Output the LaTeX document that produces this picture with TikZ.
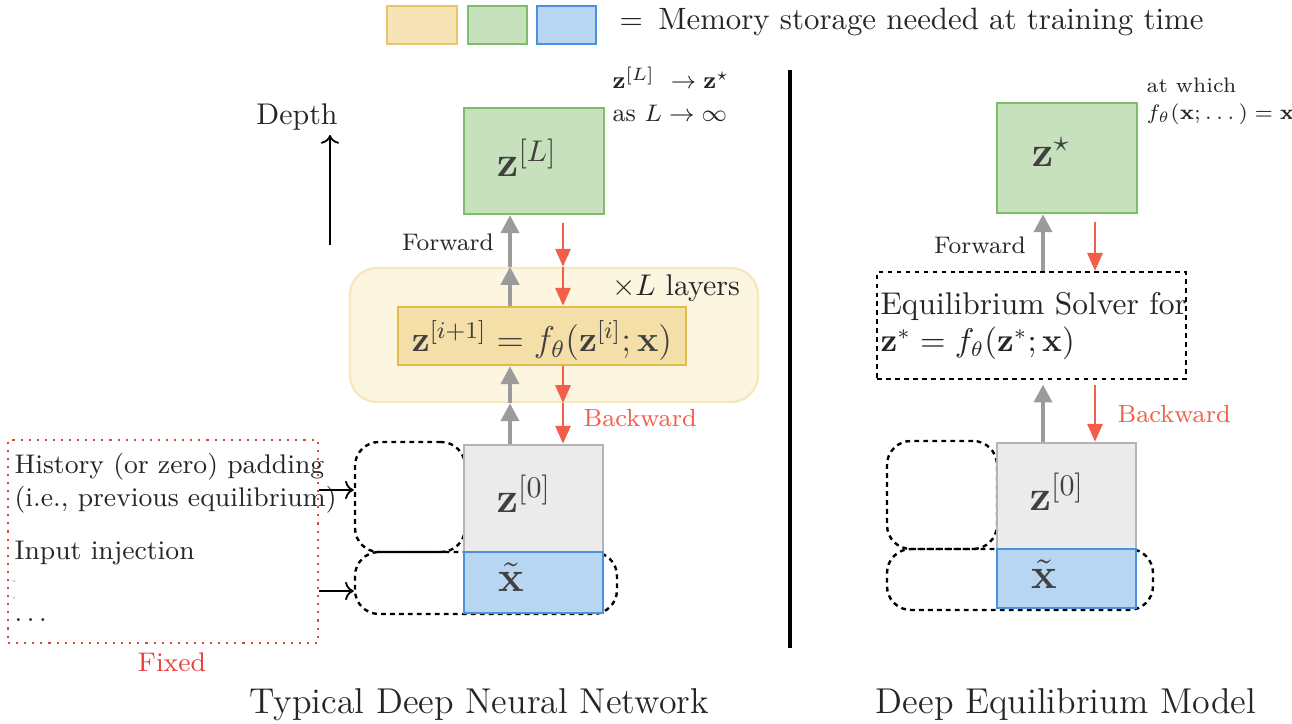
\documentclass[tikz,border=0pt]{standalone}
\usepackage{amsmath,amssymb}
\usepackage{tikz}
\usetikzlibrary{arrows.meta,fit}

\definecolor{yfill}{HTML}{F6E4B6}
\definecolor{yline}{HTML}{E9C46A}
\definecolor{bandfill}{HTML}{FCF5E0}
\definecolor{bandline}{HTML}{F6E8BE}
\definecolor{layerfill}{HTML}{F4DFA8}
\definecolor{layerline}{HTML}{E3BA4E}
\definecolor{gfill}{HTML}{C6E1BC}
\definecolor{gline}{HTML}{7EBD6B}
\definecolor{bfill}{HTML}{B8D6F1}
\definecolor{bline}{HTML}{4A92DB}
\definecolor{zfill}{HTML}{EBEBEB}
\definecolor{zline}{HTML}{B4B4B4}
\definecolor{fgray}{HTML}{9B9B9B}
\definecolor{bred}{HTML}{F25E4A}
\definecolor{fixred}{HTML}{E8403A}

\begin{document}
\begin{tikzpicture}[x=0.334pt,y=-0.334pt,
  txt/.style={text=black!85},
  membox/.style={line width=0.8pt,inner sep=0pt},
  boxlbl/.style={anchor=base,inner sep=0pt,text=black!75,font=\Large},
  padbox/.style={draw=black,line width=0.8pt,dash pattern=on 1.6pt off 1.4pt,rounded corners=8pt,inner sep=0pt},
  fwd/.style={draw=fgray,line width=1.3pt,-{Triangle[width=6pt,length=6pt]}},
  bwd/.style={draw=bred,line width=1pt,-{Triangle[width=5pt,length=6pt]}}]
  \useasboundingbox (0,0) rectangle (1292,724);

  % legend
  \node[membox,draw=yline,fill=yfill,fit={(387,6) (457,44)}] (legy) {};
  \node[membox,draw=gline,fill=gfill,fit={(468,6) (527,44)}] (legg) {};
  \node[membox,draw=bline,fill=bfill,fit={(537,6) (596,44)}] (legb) {};
  \node[txt,anchor=west,font=\fontsize{10.3}{12}\selectfont] (legtxt) at (609,22)
    {$=$\enspace Memory storage needed at training time};

  % typical deep network
  \node[txt] (depth) at (297,117) {Depth};
  \coordinate (dbot) at (330,245);
  \coordinate (dtop) at (330,135);
  \draw[->,line width=0.6pt] (dbot) -- (dtop);

  \node[draw=bandline,fill=bandfill,line width=0.8pt,rounded corners=9pt,inner sep=0pt,
    fit={(350,268) (758,402)}] (band) {};
  \node[txt] (times) at (676,288) {$\times L$ layers};
  \node[membox,draw=layerline,fill=layerfill,fit={(398,307) (686,365)}] (layer) {};
  \node[boxlbl,font=\large] (layerlbl) at (542,352)
    {$\mathbf{z}^{[i+1]} = f_\theta(\mathbf{z}^{[i]};\mathbf{x})$};
  \node[membox,draw=gline,fill=gfill,fit={(464,108) (604,214)}] (zL) {};
  \node[boxlbl] (zLlbl) at (527,177) {$\mathbf{z}^{[L]}$};
  \node[txt,font=\fontsize{8.5}{11}\selectfont,anchor=north west,align=left] (limit) at (602,56)
    {$\mathbf{z}^{[L]}\ \to \mathbf{z}^\star$\\as $L\to\infty$};

  \node[padbox,fit={(355,442) (465,552)}] (hpad) {};
  \node[padbox,fit={(355,552) (617,614)}] (xpad) {};
  \node[membox,draw=zline,fill=zfill,fit={(464,445) (603,552)}] (z0) {};
  \node[membox,draw=bline,fill=bfill,fit={(464,552) (603,613)}] (xt) {};
  \node[boxlbl] (z0lbl) at (524,513) {$\mathbf{z}^{[0]}$};
  \node[boxlbl] (xtlbl) at (511,592) {$\tilde{\mathbf{x}}$};

  \coordinate (lf) at (510,0);
  \coordinate (lb) at (563,0);
  \draw[fwd] (z0.north -| lf) -- (band.south -| lf);
  \draw[fwd] (band.south -| lf) -- (layer.south -| lf);
  \draw[fwd] (layer.north -| lf) -- (band.north -| lf);
  \draw[fwd] (band.north -| lf) -- (zL.south -| lf);
  \draw[bwd,shorten <=2.5pt] (zL.south -| lb) -- (band.north -| lb);
  \draw[bwd] (band.north -| lb) -- (layer.north -| lb);
  \draw[bwd] (layer.south -| lb) -- (band.south -| lb);
  \draw[bwd] (band.south -| lb) -- (z0.north -| lb);
  \node[txt,font=\footnotesize] (fwdl) at (448,242) {Forward};
  \node[text=bred,font=\fontsize{8.3}{10}\selectfont,anchor=west] (bwdl) at (573,418) {Backward};

  % fixed inputs
  \node[draw=fixred,line width=0.7pt,dotted,inner sep=0pt,fit={(8,440) (318,643)}] (fixed) {};
  \node[txt,anchor=west,font=\small,inner sep=1pt] (hist1) at (11,467) {History (or zero) padding};
  \node[txt,anchor=west,font=\small,inner sep=1pt] (hist2) at (11,500) {(i.e., previous equilibrium)};
  \node[txt,anchor=west,font=\small,inner sep=1pt] (inj) at (11,553) {Input injection};
  \fill[black!18] (14,581) circle (0.5pt) (14,598) circle (0.5pt);
  \node[txt,anchor=west,font=\small,inner sep=1pt] (hd) at (11,620) {$\dots$};
  \node[text=fixred,font=\small] (fixl) at (172,662) {Fixed};
  \draw[->,line width=0.6pt] (fixed.east |- 0,490) -- (hpad.west |- 0,490);
  \draw[->,line width=0.6pt] (fixed.east |- 0,591) -- (xpad.west |- 0,591);

  \node[txt,font=\large] (tdnn) at (479,705) {Typical Deep Neural Network};

  % divider
  \draw[line width=1.6pt] (790,70) -- (790,648);

  % deep equilibrium model
  \node[membox,draw=gline,fill=gfill,fit={(997,103) (1137,213)}] (zS) {};
  \node[boxlbl] (zSlbl) at (1051,167) {$\mathbf{z}^\star$};
  \node[txt,font=\scriptsize,anchor=north west,align=left,inner sep=1pt] (fixpt) at (1143,74)
    {at which\\[1pt]$f_\theta(\mathbf{x};\dots)=\mathbf{x}$};
  \node[draw=black,line width=0.7pt,dash pattern=on 1.6pt off 1.4pt,inner sep=0pt,
    fit={(877,272) (1186,379)}] (solver) {};
  \node[txt,anchor=west,align=left,font=\fontsize{10.5}{12.5}\selectfont] (solvtxt) at (870,326)
    {Equilibrium Solver for\\$\mathbf{z}^* = f_\theta(\mathbf{z}^*;\mathbf{x})$};

  \node[padbox,fit={(887,441) (997,549)}] (hpadr) {};
  \node[padbox,fit={(887,549) (1153,610)}] (xpadr) {};
  \node[membox,draw=zline,fill=zfill,fit={(997,443) (1136,549)}] (z0r) {};
  \node[membox,draw=bline,fill=bfill,fit={(997,549) (1136,608)}] (xtr) {};
  \node[boxlbl] (z0rlbl) at (1057,511) {$\mathbf{z}^{[0]}$};
  \node[boxlbl] (xtrlbl) at (1044,589) {$\tilde{\mathbf{x}}$};

  \coordinate (rf) at (1043,0);
  \coordinate (rb) at (1095,0);
  \draw[fwd,shorten >=1.5pt] (z0r.north -| rf) -- (solver.south -| rf);
  \draw[fwd] (solver.north -| rf) -- (zS.south -| rf);
  \draw[bwd,shorten <=2.5pt] (zS.south -| rb) -- (solver.north -| rb);
  \draw[bwd,shorten <=1.5pt] (solver.south -| rb) -- (z0r.north -| rb);
  \node[txt,font=\footnotesize] (fwdr) at (980,245) {Forward};
  \node[text=bred,font=\fontsize{8.3}{10}\selectfont,anchor=west] (bwdr) at (1107,414) {Backward};

  \node[txt,font=\large] (tdeq) at (1066,705) {Deep Equilibrium Model};
\end{tikzpicture}
\end{document}
